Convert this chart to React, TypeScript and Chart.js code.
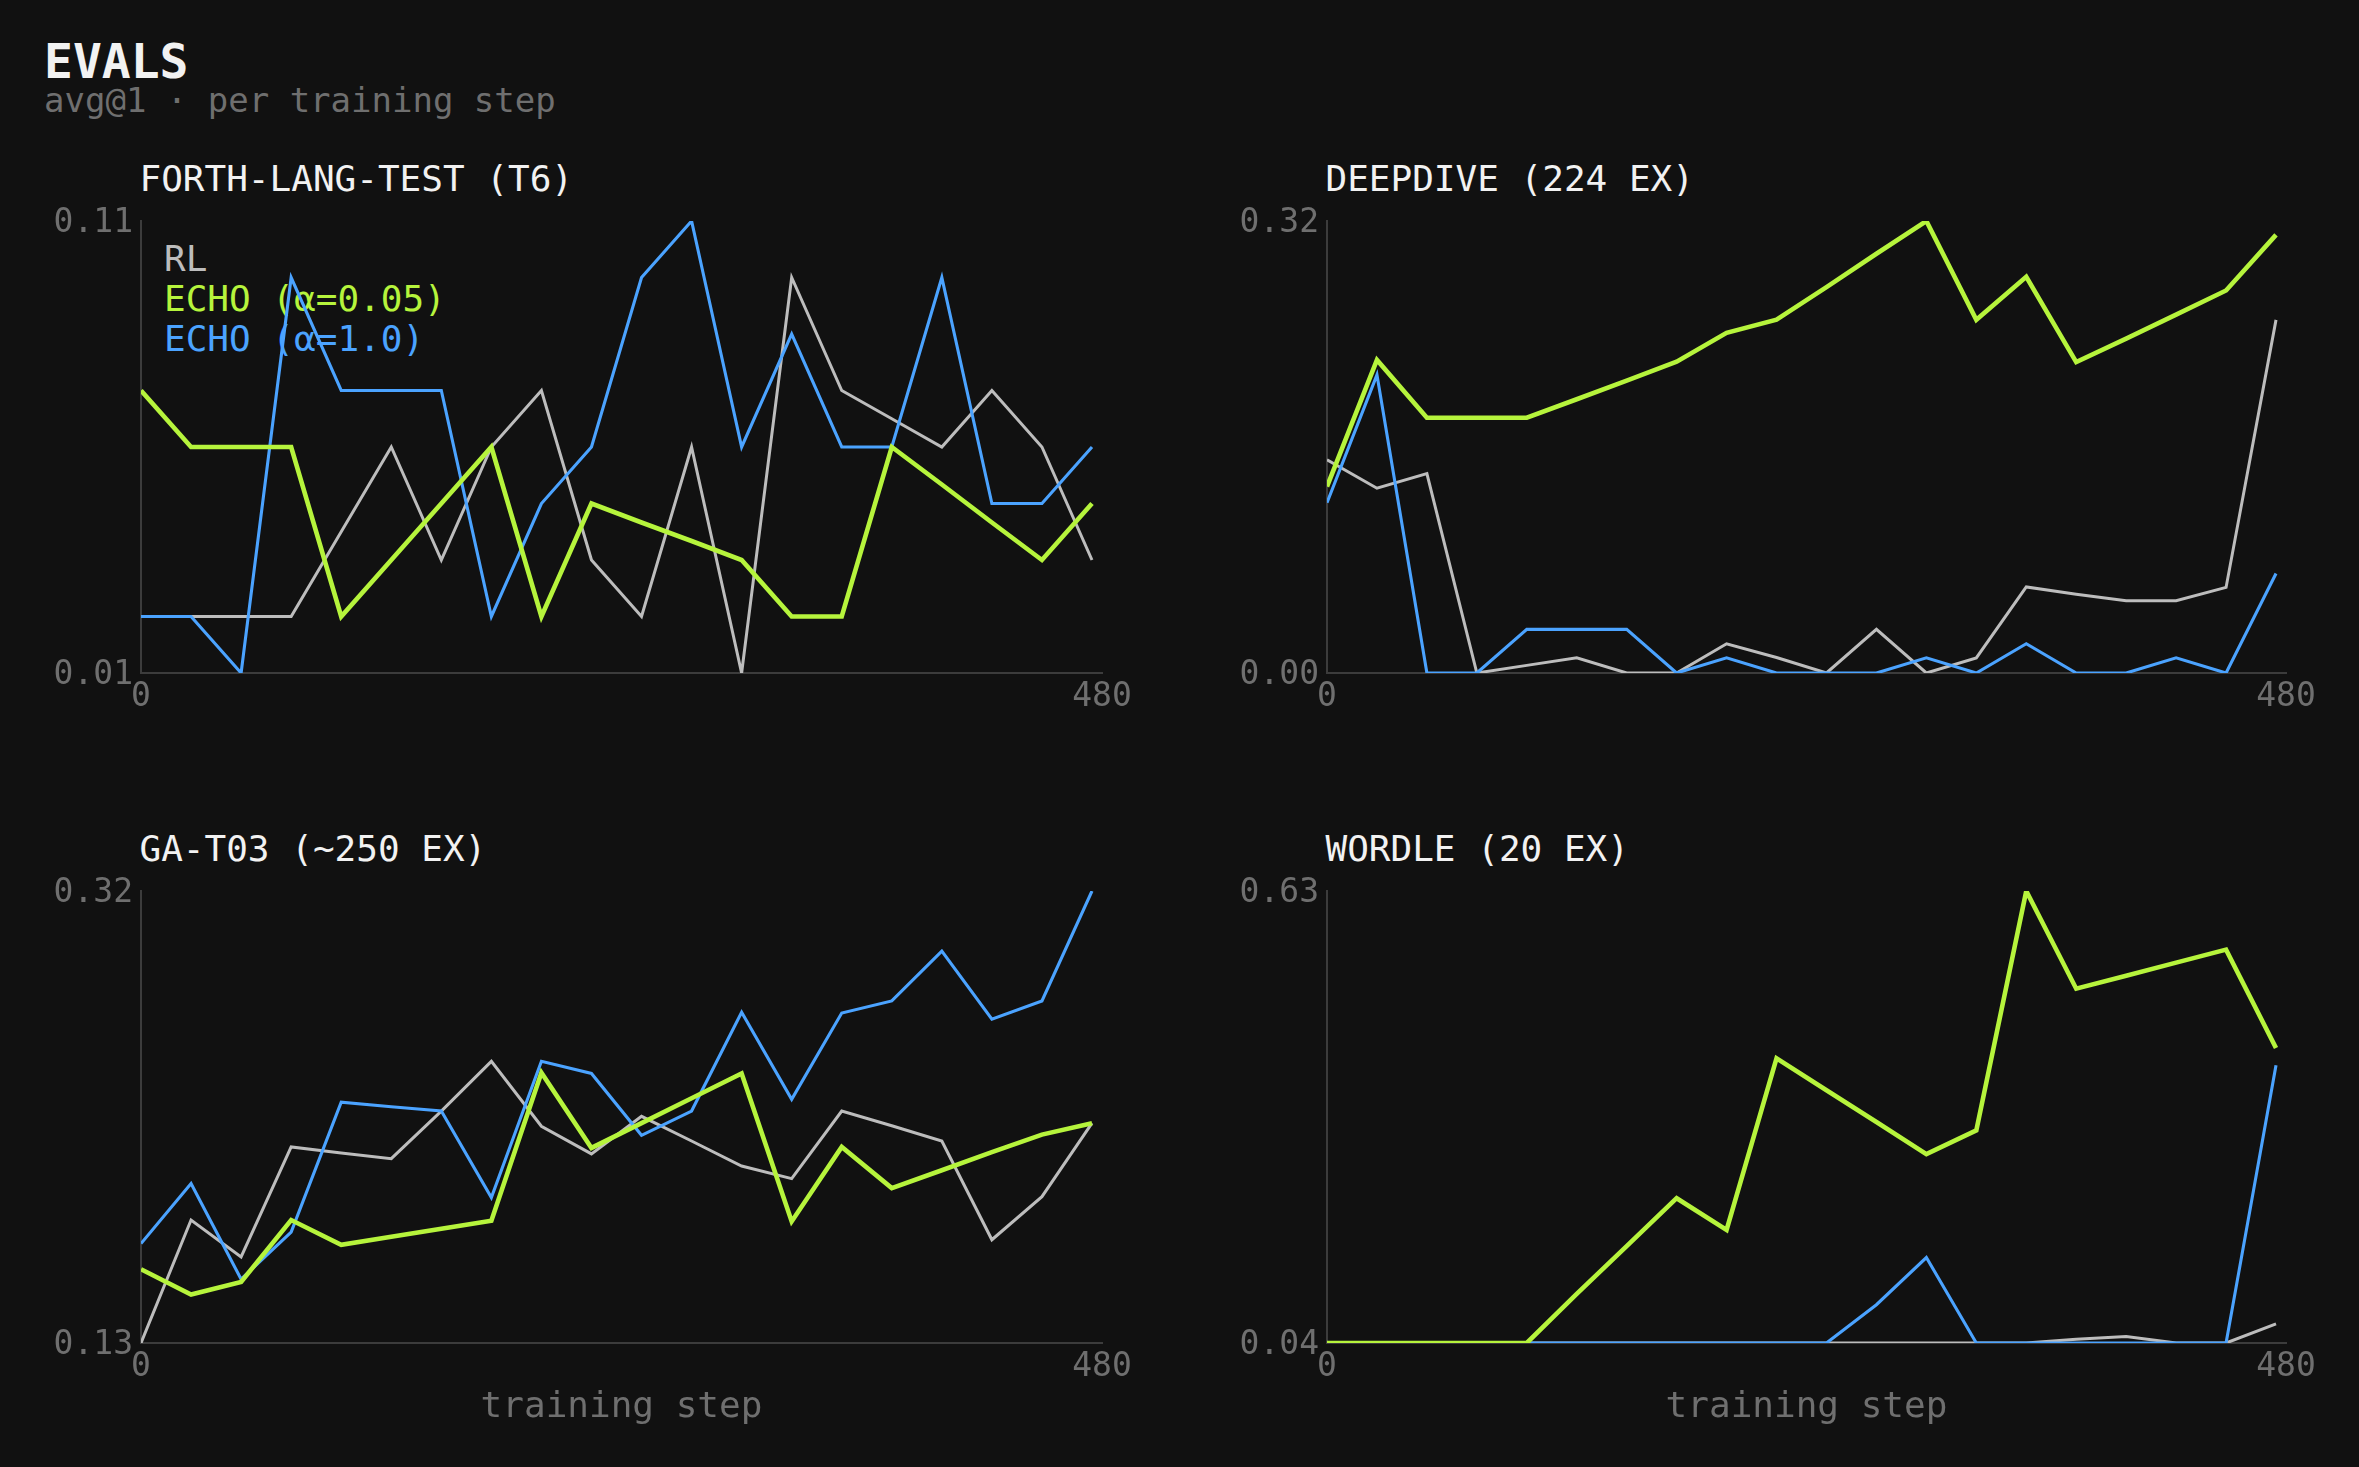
import React, { useEffect, useRef } from 'react';
import { Chart, registerables } from 'chart.js';

Chart.register(...registerables);

const FONT = "'DejaVu Sans Mono', monospace";
const BG = '#111111';
const GREEN = '#b6f43c';
const BLUE = '#4ba3ff';
const GRAY = '#bdbdbd';
const TICK = '#6f6f6f';
const AXIS = '#3c3c3c';
const WHITE = '#f2f2f2';

// training steps (x values)
const STEPS = [0, 25, 50, 75, 100, 125, 150, 175, 200, 225, 250, 275, 300, 325, 350, 375, 400, 425, 450, 475];
const X_TICKS = [0, 480];

const SERIES_LABELS = ['RL', 'ECHO (α=0.05)', 'ECHO (α=1.0)'];
const PANEL_TITLES = ['FORTH-LANG-TEST (T6)', 'DEEPDIVE (224 EX)', 'GA-T03 (~250 EX)', 'WORDLE (20 EX)'];

// FORTH-LANG-TEST (T6)
const forthRL = [0.025, 0.025, 0.025, 0.025, 0.04375, 0.0625, 0.0375, 0.0625, 0.075, 0.0375, 0.025, 0.0625, 0.0125, 0.1, 0.075, 0.06875, 0.0625, 0.075, 0.0625, 0.0375];
const forthEcho005 = [0.075, 0.0625, 0.0625, 0.0625, 0.025, 0.0375, 0.05, 0.0625, 0.025, 0.05, 0.0458, 0.0417, 0.0375, 0.025, 0.025, 0.0625, 0.0542, 0.0458, 0.0375, 0.05];
const forthEcho10 = [0.025, 0.025, 0.0125, 0.1, 0.075, 0.075, 0.075, 0.025, 0.05, 0.0625, 0.1, 0.1125, 0.0625, 0.0875, 0.0625, 0.0625, 0.1, 0.05, 0.05, 0.0625];

// DEEPDIVE (224 EX)
const deepRL = [0.151, 0.1308, 0.1412, 0, 0.0054, 0.0107, 0, 0, 0.0207, 0.011, 0, 0.0309, 0, 0.0107, 0.0609, 0.0558, 0.0511, 0.0511, 0.0606, 0.25];
const deepEcho005 = [0.132, 0.2216, 0.1807, 0.1807, 0.1807, 0.1938, 0.207, 0.2204, 0.2408, 0.2501, 0.2732, 0.2968, 0.32, 0.2501, 0.2805, 0.2201, 0.2367, 0.2537, 0.2708, 0.3102];
const deepEcho10 = [0.1205, 0.2111, 0, 0, 0.0309, 0.0309, 0.0309, 0, 0.0107, 0, 0, 0, 0.0107, 0, 0.0207, 0, 0, 0.0107, 0, 0.0704];

// GA-T03 (~250 EX)
const gaRL = [0.13, 0.1817, 0.1662, 0.2124, 0.2099, 0.2075, 0.2275, 0.2484, 0.2211, 0.2095, 0.2253, 0.2149, 0.2044, 0.1991, 0.2275, 0.2213, 0.2149, 0.1734, 0.1915, 0.2224];
const gaEcho005 = [0.161, 0.1504, 0.1557, 0.1817, 0.1713, 0.1747, 0.178, 0.1814, 0.2436, 0.212, 0.2224, 0.2329, 0.2433, 0.1811, 0.2124, 0.1951, 0.2026, 0.2102, 0.2176, 0.2224];
const gaEcho10 = [0.1718, 0.197, 0.1568, 0.1766, 0.2312, 0.2293, 0.2275, 0.1911, 0.2484, 0.2433, 0.2173, 0.2275, 0.269, 0.2324, 0.2687, 0.2738, 0.2947, 0.2661, 0.2738, 0.32];

// WORDLE (20 EX)
const wordleRL = [0.04, 0.04, 0.04, 0.04, 0.04, 0.04, 0.04, 0.04, 0.04, 0.04, 0.04, 0.04, 0.04, 0.04, 0.04, 0.045, 0.0485, 0.04, 0.04, 0.065];
const wordleEcho005 = [0.04, 0.04, 0.04, 0.04, 0.04, 0.104, 0.1665, 0.229, 0.1875, 0.4115, 0.37, 0.3285, 0.2865, 0.3175, 0.63, 0.5025, 0.5195, 0.5365, 0.5535, 0.425];
const wordleEcho10 = [0.04, 0.04, 0.04, 0.04, 0.04, 0.04, 0.04, 0.04, 0.04, 0.04, 0.04, 0.09, 0.1515, 0.04, 0.04, 0.04, 0.04, 0.04, 0.04, 0.4025];

// layout (pixels)
const Y_AXIS_W = 130;
const PAD_TOP = 30;
const PAD_RIGHT = 40;

type PanelSpec = {
  title: string;
  rl: number[];
  low: number[];
  high: number[];
  L: number;
  T: number;
  R: number;
  B: number;
  xTitle: boolean;
};

const PANELS: PanelSpec[] = [
  { title: PANEL_TITLES[0], rl: forthRL, low: forthEcho005, high: forthEcho10, L: 141, T: 221, R: 1102, B: 673, xTitle: false },
  { title: PANEL_TITLES[1], rl: deepRL, low: deepEcho005, high: deepEcho10, L: 1327, T: 221, R: 2286, B: 673, xTitle: false },
  { title: PANEL_TITLES[2], rl: gaRL, low: gaEcho005, high: gaEcho10, L: 141, T: 891, R: 1102, B: 1343, xTitle: true },
  { title: PANEL_TITLES[3], rl: wordleRL, low: wordleEcho005, high: wordleEcho10, L: 1327, T: 891, R: 2286, B: 1343, xTitle: true },
];

function toPoints(values: number[]) {
  return values.map((y, i) => ({ x: STEPS[i], y }));
}

function Panel({ spec, index }: { spec: PanelSpec; index: number }) {
  const ref = useRef<HTMLCanvasElement | null>(null);
  const xAxisH = spec.xTitle ? 100 : 60;
  const width = spec.R - spec.L + Y_AXIS_W + PAD_RIGHT;
  const height = PAD_TOP + (spec.B - spec.T) + xAxisH;
  const left = spec.L - Y_AXIS_W;
  const top = spec.T - PAD_TOP;

  useEffect(() => {
    if (!ref.current) return;
    const all = [...spec.rl, ...spec.low, ...spec.high];
    const yMin = Math.min(...all);
    const yMax = Math.max(...all);
    const chart = new Chart(ref.current, {
      type: 'line',
      data: {
        datasets: [
          { label: SERIES_LABELS[0], data: toPoints(spec.rl), borderColor: GRAY, borderWidth: 3, order: 2 },
          { label: SERIES_LABELS[1], data: toPoints(spec.low), borderColor: GREEN, borderWidth: 4.6, order: 0 },
          { label: SERIES_LABELS[2], data: toPoints(spec.high), borderColor: BLUE, borderWidth: 3.1, order: 1 },
        ],
      },
      options: {
        animation: false,
        responsive: false,
        maintainAspectRatio: false,
        devicePixelRatio: 1,
        layout: { padding: { left: 0, top: PAD_TOP, right: PAD_RIGHT, bottom: 0 } },
        plugins: { legend: { display: false }, tooltip: { enabled: false }, title: { display: false } },
        elements: {
          point: { radius: 0, hoverRadius: 0 },
          line: { tension: 0, borderJoinStyle: 'miter', borderCapStyle: 'butt', fill: false },
        },
        scales: {
          x: {
            type: 'linear',
            min: X_TICKS[0],
            max: X_TICKS[1],
            grid: { display: false, drawTicks: false },
            border: { display: true, color: AXIS, width: 2 },
            afterBuildTicks: (scale: any) => {
              scale.ticks = X_TICKS.map((v) => ({ value: v }));
            },
            afterFit: (scale: any) => {
              scale.height = xAxisH;
            },
            ticks: {
              color: TICK,
              font: { family: FONT, size: 33 },
              padding: 5,
              autoSkip: false,
              maxRotation: 0,
              minRotation: 0,
              callback: (v: any) => String(v),
            },
            title: {
              display: spec.xTitle,
              text: 'training step',
              color: TICK,
              font: { family: FONT, size: 36, lineHeight: 1.2 },
              padding: { top: 0, bottom: 14 },
            },
          },
          y: {
            type: 'linear',
            min: yMin,
            max: yMax,
            grid: { display: false, drawTicks: false },
            border: { display: true, color: AXIS, width: 2 },
            afterBuildTicks: (scale: any) => {
              scale.ticks = [{ value: yMin }, { value: yMax }];
            },
            afterFit: (scale: any) => {
              scale.width = Y_AXIS_W;
            },
            ticks: {
              color: TICK,
              font: { family: FONT, size: 33 },
              padding: 8,
              labelOffset: 2.5,
              autoSkip: false,
              callback: (v: any) => Number(v).toFixed(2),
            },
          },
        },
      } as any,
    });
    return () => chart.destroy();
  }, [spec]);

  return (
    <>
      <div
        style={{
          position: 'absolute',
          left: spec.L - 1.5,
          top: spec.T - 30 - 30.5,
          fontFamily: FONT,
          fontSize: 36,
          lineHeight: 1,
          color: WHITE,
          whiteSpace: 'pre',
        }}
      >
        {spec.title}
      </div>
      {index === 0 && (
        <div style={{ position: 'absolute', left: spec.L + 23, top: spec.T + 17.5, zIndex: 0, fontFamily: FONT, fontSize: 36, lineHeight: '40px', whiteSpace: 'pre' }}>
          <div style={{ color: GRAY }}>{SERIES_LABELS[0]}</div>
          <div style={{ color: GREEN }}>{SERIES_LABELS[1]}</div>
          <div style={{ color: BLUE }}>{SERIES_LABELS[2]}</div>
        </div>
      )}
      <canvas
        ref={ref}
        width={width}
        height={height}
        style={{ position: 'absolute', left, top, width, height, zIndex: 1, display: 'block' }}
      />
    </>
  );
}

export default function App() {
  useEffect(() => {
    document.body.style.margin = '0';
    document.body.style.background = BG;
  }, []);
  return (
    <div style={{ position: 'relative', width: 2359, height: 1467, background: BG, overflow: 'hidden' }}>
      <div
        style={{
          position: 'absolute',
          left: 44,
          top: 37,
          fontFamily: FONT,
          fontSize: 48,
          fontWeight: 'bold',
          lineHeight: 1,
          color: WHITE,
        }}
      >
        EVALS
      </div>
      <div
        style={{
          position: 'absolute',
          left: 44,
          top: 83,
          fontFamily: FONT,
          fontSize: 34,
          lineHeight: 1,
          color: TICK,
          whiteSpace: 'pre',
        }}
      >
        avg@1 · per training step
      </div>
      {PANELS.map((p, i) => (
        <Panel key={i} spec={p} index={i} />
      ))}
    </div>
  );
}
